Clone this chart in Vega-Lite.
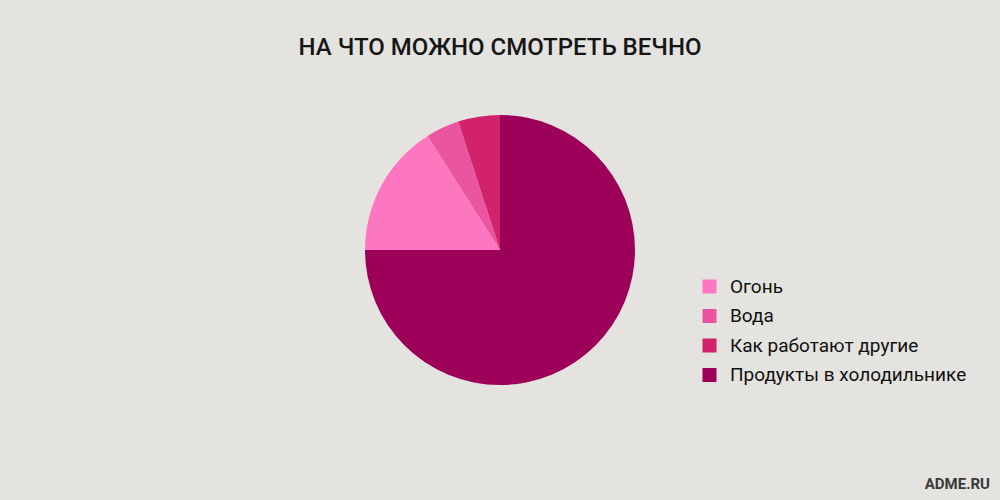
{
  "$schema": "https://vega.github.io/schema/vega-lite/v6.json",
  "width": 1000,
  "height": 500,
  "autosize": "none",
  "padding": 0,
  "background": "#e4e3df",
  "config": {"view": {"stroke": null}, "font": "Roboto"},
  "title": {
    "text": "НА ЧТО МОЖНО СМОТРЕТЬ ВЕЧНО",
    "anchor": "middle",
    "frame": "group",
    "orient": "top",
    "offset": -79,
    "baseline": "alphabetic",
    "fontSize": 24,
    "fontWeight": 500,
    "color": "#161616",
    "font": "Roboto"
  },
  "layer": [
    {
      "data": {
        "values": [
          {"category": "Продукты в холодильнике", "share": 75, "rank": 1},
          {"category": "Огонь", "share": 16, "rank": 2},
          {"category": "Вода", "share": 4, "rank": 3},
          {"category": "Как работают другие", "share": 5, "rank": 4}
        ]
      },
      "mark": {"type": "arc", "outerRadius": 135},
      "encoding": {
        "theta": {"field": "share", "type": "quantitative", "stack": true},
        "order": {"field": "rank", "type": "quantitative"},
        "color": {
          "field": "category",
          "type": "nominal",
          "scale": {
            "domain": ["Огонь", "Вода", "Как работают другие", "Продукты в холодильнике"],
            "range": ["#fd77c0", "#eb55a0", "#d2226b", "#9c0058"]
          },
          "legend": {
            "title": null,
            "orient": "none",
            "legendX": 700,
            "legendY": 277,
            "padding": 0,
            "symbolType": "square",
            "symbolSize": 196,
            "symbolStrokeWidth": 0,
            "symbolOpacity": 1,
            "labelFontSize": 19,
            "labelFont": "Roboto",
            "labelColor": "#111111",
            "labelOffset": 11,
            "rowPadding": 9.5,
            "labelLimit": 400
          }
        }
      }
    },
    {
      "data": {"values": [{"credit": "ADME.RU"}]},
      "mark": {
        "type": "text",
        "x": {"expr": "width - 10"},
        "y": {"expr": "height - 11"},
        "align": "right",
        "baseline": "alphabetic",
        "fontSize": 15,
        "fontWeight": "bold",
        "font": "Roboto",
        "color": "#3a3a3a"
      },
      "encoding": {"text": {"field": "credit"}}
    }
  ]
}
